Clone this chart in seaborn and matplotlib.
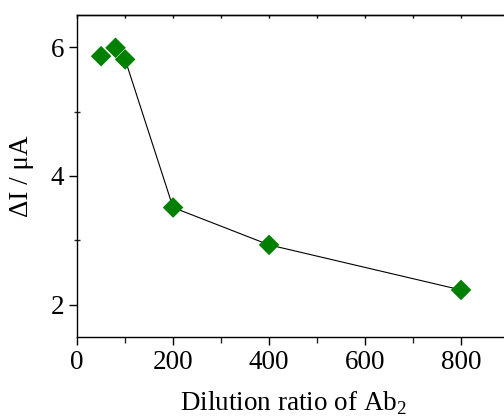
import seaborn as sns
import pandas as pd
import matplotlib.pyplot as plt
from matplotlib.ticker import MultipleLocator, NullFormatter

# values
dilution = [50, 80, 100, 200, 400, 800]
delta_i = [5.86, 5.99, 5.81, 3.51, 2.93, 2.23]
# the connecting line starts from the 1:100 point
line_dilution = [100, 200, 400, 800]
line_delta_i = [5.81, 3.51, 2.93, 2.23]

sns.set_style('ticks')
plt.rcParams['font.family'] = ['Liberation Serif', 'DejaVu Serif']
plt.rcParams['mathtext.fontset'] = 'custom'
plt.rcParams['mathtext.rm'] = 'Liberation Serif'
plt.rcParams['text.color'] = 'black'
plt.rcParams['axes.labelcolor'] = 'black'

df = pd.DataFrame({'x': dilution, 'y': delta_i})
df_line = pd.DataFrame({'x': line_dilution, 'y': line_delta_i})

fig = plt.figure(figsize=(5.04, 4.16), dpi=100)
ax = fig.add_axes([0.153, 0.19, 0.857, 0.774])

sns.lineplot(data=df_line, x='x', y='y', color='black', linewidth=0.8, ax=ax, zorder=2)
sns.scatterplot(data=df, x='x', y='y', marker='D', s=110, color='#008000',
                edgecolor='none', ax=ax, zorder=3)

ax.set_xlim(0, 900)
ax.set_ylim(1.5, 6.5)
ax.xaxis.set_major_locator(MultipleLocator(200))
ax.xaxis.set_minor_locator(MultipleLocator(100))
ax.yaxis.set_major_locator(MultipleLocator(2))
ax.yaxis.set_minor_locator(MultipleLocator(1))

for s in ax.spines.values():
    s.set_linewidth(1.0)
    s.set_color('black')

ax.tick_params(axis='both', which='major', direction='out', length=6, width=1,
               labelsize=19.5, colors='black')
ax.tick_params(axis='x', which='minor', direction='out', length=4, width=1)
ax.tick_params(axis='y', which='minor', direction='inout', length=4, width=1)

# small inward ticks on the top spine
top = ax.secondary_xaxis('top')
top.xaxis.set_major_locator(MultipleLocator(100))
top.xaxis.set_major_formatter(NullFormatter())
top.tick_params(direction='in', length=2, width=1, colors='black')
top.spines['top'].set_linewidth(1.0)

ax.set_xlabel('Dilution ratio of Ab$_\\mathrm{2}$', fontsize=19.5, labelpad=10)
ax.set_ylabel('ΔI / μA', fontsize=19.5, labelpad=12)

fig.savefig('out.png', dpi=100)
